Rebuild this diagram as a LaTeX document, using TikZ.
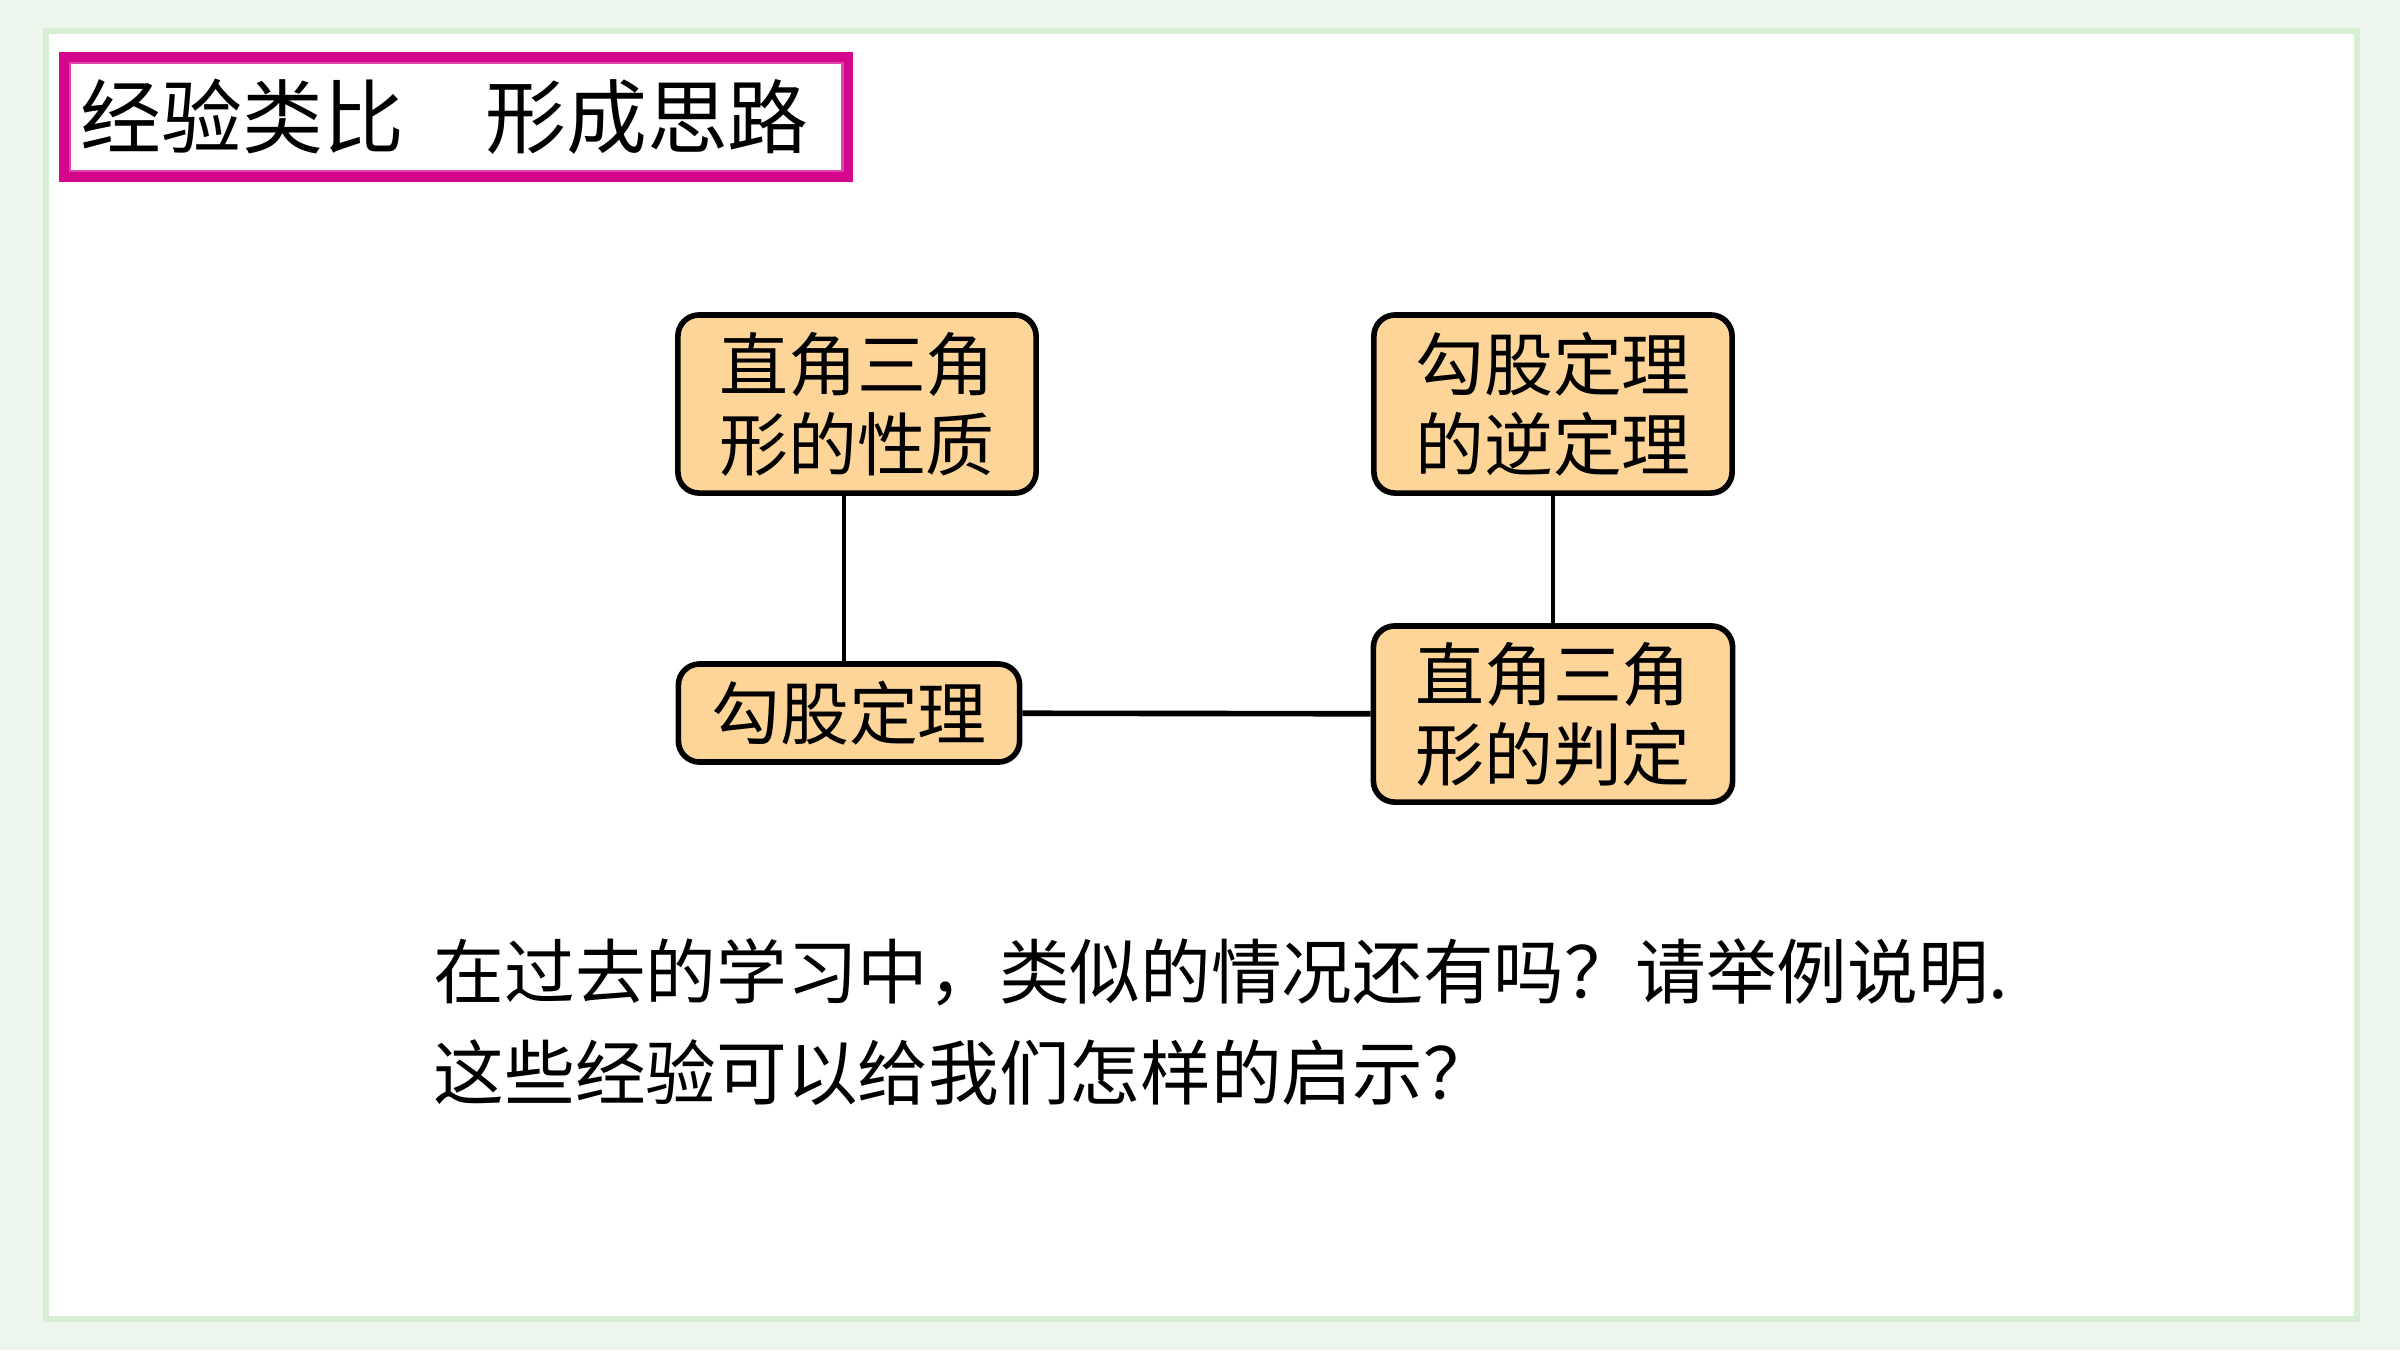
\documentclass[tikz,border=0pt]{standalone}
\usepackage{fontspec}
\newfontfamily\cjk{Noto Sans CJK SC}
\definecolor{titlemagenta}{RGB}{211,6,140}
\definecolor{titlepink}{RGB}{222,70,170}
\definecolor{boxorange}{RGB}{253,213,153}
\definecolor{pagegreen}{RGB}{236,246,237}
\definecolor{panelgreen}{RGB}{214,238,210}

\begin{document}
\begin{tikzpicture}[x=0.01cm,y=-0.01cm]

\tikzstyle{topic}=[rectangle, rounded corners=6pt, line width=1.6pt, draw=black, fill=boxorange, align=center, inner sep=0pt, font=\cjk\fontsize{19.6}{22.7}\selectfont]
\tikzstyle{heading}=[rectangle, draw=titlemagenta, line width=2.8pt, fill=white, text width=7.5cm, align=left, inner xsep=0.17cm, minimum height=1.2cm, font=\cjk\fontsize{23}{26}\selectfont]
\tikzstyle{prompt}=[align=left, inner sep=0pt, font=\cjk\fontsize{20.1}{28.7}\selectfont]
\tikzstyle{link}=[line width=1.3pt]

\useasboundingbox (0,0) rectangle (2400,1350);
\fill[pagegreen] (0,0) rectangle (2400,1350);
\draw[panelgreen, line width=1.5pt, fill=white] (46,31) rectangle (2357,1319);

% title
\node (title) [heading, anchor=west] at (59,117) {经验类比　形成思路};
\draw[titlepink, line width=0.7pt] ([shift={(11,11)}]title.north west) rectangle ([shift={(-11,-11)}]title.south east);

% boxes
\node (rtprop) [topic, minimum width=3.58cm, minimum height=1.78cm] at (857,404) {直角三角\\形的性质};
\node (converse) [topic, minimum width=3.58cm, minimum height=1.78cm] at (1553,404) {勾股定理\\的逆定理};
\node (pythag) [topic, minimum width=3.41cm, minimum height=0.98cm] at (849,713) {勾股定理};
\node (rtjudge) [topic, minimum width=3.59cm, minimum height=1.76cm] at (1553,714) {直角三角\\形的判定};

\draw[link] ([xshift=-0.05cm]pythag.north) -- ([xshift=-0.05cm]pythag.north |- rtprop.south);
\draw[link] (converse) -- (rtjudge);
\draw[link, line width=1.6pt] (pythag) -- (rtjudge);

% question
\node (question) [prompt, anchor=west] at (433,1022) {在过去的学习中，类似的情况还有吗？请举例说明.\\这些经验可以给我们怎样的启示？};
\end{tikzpicture}
\end{document}
